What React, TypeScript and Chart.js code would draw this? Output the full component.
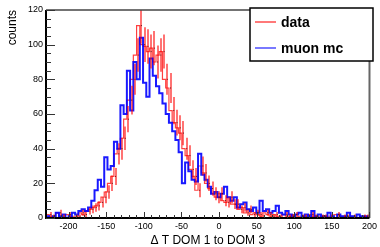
import React, { useEffect, useRef } from "react";
import { Chart, registerables } from "chart.js";
Chart.register(...registerables);

const binStart = -230;
const binWidth = 4.3;
const mcCounts = [
  2, 1, 0, 1, 3, 1, 2, 0, 1, 3,
  2, 4, 5, 4, 6, 10, 16, 22, 18, 35,
  28, 30, 44, 40, 65, 60, 85, 62, 90, 80,
  104, 78, 70, 92, 82, 76, 72, 66, 60, 55,
  50, 45, 38, 20, 32, 27, 22, 21, 37, 25,
  22, 18, 14, 15, 12, 14, 18, 12, 10, 12,
  6, 8, 9, 5, 4, 6, 3, 10, 4, 5,
  3, 4, 7, 3, 2, 4, 2, 1, 2, 3,
  1, 2, 1, 4, 1, 2, 1, 1, 3, 1,
  0, 2, 1, 1, 3, 1, 0, 2, 1, 1,
];
const dataCounts = [
  0, 2, 1, 0, 3, 1, 0, 2, 0, 1,
  1, 3, 2, 4, 5, 6, 7, 9, 12, 15,
  20, 24, 37, 40, 46, 57, 68, 80, 94, 111,
  100, 99, 96, 98, 90, 94, 96, 80, 75, 62,
  55, 52, 49, 40, 36, 28, 24, 16, 30, 26,
  20, 17, 14, 12, 14, 10, 9, 12, 8, 8,
  5, 6, 3, 5, 2, 3, 2, 1, 3, 2,
  1, 2, 1, 0, 2, 1, 1, 2, 0, 1,
  1, 0, 2, 1, 0, 1, 1, 0, 1, 0,
  2, 0, 1, 1, 0, 1, 0, 0, 1, 1,
];
const xTickValues = [-200, -150, -100, -50, 0, 50, 100, 150, 200];
const yTickValues = [0, 20, 40, 60, 80, 100, 120];
const xMin = -230;
const xMax = 200;
const yMin = 0;
const yMax = 120;
const xMinorStep = 10;
const yMinorStep = 5;
const xTitle = "\u0394 T DOM 1 to DOM 3";
const yTitle = "counts";
const dataLabel = "data";
const mcLabel = "muon mc";

const RED_LINE = "rgba(255,0,0,0.75)";
const RED_ERR = "rgba(255,0,0,0.55)";
const BLUE_LINE = "rgba(0,0,255,0.9)";
const FONT = "'Liberation Sans', Arial, Helvetica, sans-serif";

function toSteps(counts: number[]) {
  const pts = counts.map((c, i) => ({ x: binStart + i * binWidth, y: c }));
  pts.push({ x: binStart + counts.length * binWidth, y: counts[counts.length - 1] });
  return pts;
}

const rootStyle = {
  id: "rootStyle",
  afterDatasetsDraw(chart: any) {
    const ctx = chart.ctx;
    const xs = chart.scales.x;
    const ys = chart.scales.y;
    const a = chart.chartArea;
    ctx.save();
    ctx.beginPath();
    ctx.rect(a.left, a.top, a.right - a.left, a.bottom - a.top);
    ctx.clip();
    ctx.strokeStyle = RED_ERR;
    ctx.lineWidth = 2;
    dataCounts.forEach((n, i) => {
      if (n <= 0) return;
      const c = binStart + (i + 0.5) * binWidth;
      const px = Math.round(xs.getPixelForValue(c));
      const e = Math.sqrt(n);
      ctx.beginPath();
      ctx.moveTo(px, ys.getPixelForValue(n - e));
      ctx.lineTo(px, ys.getPixelForValue(n + e));
      ctx.stroke();
    });
    ctx.fillStyle = "rgba(60,0,0,0.8)";
    dataCounts.forEach((n, i) => {
      if (n <= 0) return;
      const c = binStart + (i + 0.5) * binWidth;
      const px = xs.getPixelForValue(c);
      ctx.fillRect(px - 0.5, ys.getPixelForValue(n) - 0.5, 1, 1);
    });
    ctx.restore();
  },
  afterDraw(chart: any) {
    const ctx = chart.ctx;
    const xs = chart.scales.x;
    const ys = chart.scales.y;
    const a = chart.chartArea;
    ctx.save();
    ctx.strokeStyle = "#444";
    ctx.lineWidth = 1.5;
    ctx.beginPath();
    ctx.moveTo(a.left, a.top);
    ctx.lineTo(a.right, a.top);
    ctx.stroke();
    ctx.strokeStyle = "#666";
    ctx.lineWidth = 2;
    ctx.beginPath();
    ctx.moveTo(a.right, a.top);
    ctx.lineTo(a.right, a.bottom);
    ctx.stroke();
    ctx.strokeStyle = "#000";
    ctx.lineWidth = 2;
    ctx.beginPath();
    ctx.moveTo(a.left, a.top);
    ctx.lineTo(a.left, a.bottom);
    ctx.lineTo(a.right, a.bottom);
    ctx.stroke();
    ctx.lineWidth = 1;
    ctx.strokeStyle = "#333";
    for (let v = yMin; v <= yMax + 1e-9; v += yMinorStep) {
      const major = yTickValues.includes(v);
      const py = Math.round(ys.getPixelForValue(v)) + 0.5;
      ctx.beginPath();
      ctx.moveTo(a.left, py);
      ctx.lineTo(a.left + (major ? 9 : 5), py);
      ctx.stroke();
    }
    for (let v = -220; v <= xMax + 1e-9; v += xMinorStep) {
      const major = xTickValues.includes(v);
      const px = Math.round(xs.getPixelForValue(v)) + 0.5;
      ctx.beginPath();
      ctx.moveTo(px, a.bottom);
      ctx.lineTo(px, a.bottom - (major ? 6 : 3));
      ctx.stroke();
    }
    ctx.fillStyle = "#000";
    ctx.font = `12px ${FONT}`;
    ctx.textAlign = "center";
    ctx.textBaseline = "middle";
    ctx.fillText(xTitle, (a.left + a.right) / 2, 241);
    ctx.save();
    ctx.translate(13, a.top);
    ctx.rotate(-Math.PI / 2);
    ctx.textAlign = "right";
    ctx.fillText(yTitle, 0, 0);
    ctx.restore();
    const lx = 250, ly = 8, lw = 123, lh = 53;
    ctx.fillStyle = "#fff";
    ctx.fillRect(lx, ly, lw, lh);
    ctx.strokeStyle = "#000";
    ctx.lineWidth = 1.5;
    ctx.strokeRect(lx, ly, lw, lh);
    ctx.lineWidth = 1.5;
    ctx.strokeStyle = "rgba(255,0,0,0.7)";
    ctx.beginPath();
    ctx.moveTo(255, 22);
    ctx.lineTo(276, 22);
    ctx.stroke();
    ctx.strokeStyle = "rgba(0,0,255,0.7)";
    ctx.beginPath();
    ctx.moveTo(255, 48);
    ctx.lineTo(276, 48);
    ctx.stroke();
    ctx.fillStyle = "#000";
    ctx.font = `bold 14px ${FONT}`;
    ctx.textAlign = "left";
    ctx.textBaseline = "middle";
    ctx.fillText(dataLabel, 281, 23);
    ctx.fillText(mcLabel, 281, 49);
    ctx.restore();
  },
};

export default function App() {
  const ref = useRef<HTMLCanvasElement>(null);
  useEffect(() => {
    document.body.style.margin = "0";
    const chart = new Chart(ref.current!, {
      type: "line",
      data: {
        datasets: [
          {
            label: mcLabel,
            data: toSteps(mcCounts),
            stepped: "after",
            borderColor: BLUE_LINE,
            borderWidth: 2,
            pointRadius: 0,
            fill: false,
          },
          {
            label: dataLabel,
            data: toSteps(dataCounts),
            stepped: "after",
            borderColor: RED_LINE,
            borderWidth: 1.2,
            pointRadius: 0,
            fill: false,
          },
        ],
      } as any,
      options: {
        animation: false,
        responsive: false,
        maintainAspectRatio: false,
        devicePixelRatio: 1,
        layout: { padding: { left: 0, right: 8, top: 10, bottom: 0 } },
        plugins: { legend: { display: false }, tooltip: { enabled: false } },
        scales: {
          x: {
            type: "linear",
            min: xMin,
            max: xMax,
            grid: { display: false, drawTicks: false },
            border: { display: false },
            afterBuildTicks: (s: any) => {
              s.ticks = xTickValues.map((v) => ({ value: v }));
            },
            afterFit: (s: any) => {
              s.height = 29;
            },
            ticks: {
              font: { family: FONT, size: 9 },
              color: "#000",
              padding: 3,
              maxRotation: 0,
              autoSkip: false,
            },
          },
          y: {
            type: "linear",
            min: yMin,
            max: yMax,
            grid: { display: false, drawTicks: false },
            border: { display: false },
            afterBuildTicks: (s: any) => {
              s.ticks = yTickValues.map((v) => ({ value: v }));
            },
            afterFit: (s: any) => {
              s.width = 46;
            },
            ticks: {
              font: { family: FONT, size: 9 },
              color: "#000",
              padding: 3,
              autoSkip: false,
            },
          },
        },
      } as any,
      plugins: [rootStyle],
    });
    return () => chart.destroy();
  }, []);
  return (
    <div style={{ position: "absolute", left: 0, top: 0, width: 380, height: 247 }}>
      <canvas ref={ref} width={380} height={247} style={{ width: 380, height: 247 }} />
    </div>
  );
}
